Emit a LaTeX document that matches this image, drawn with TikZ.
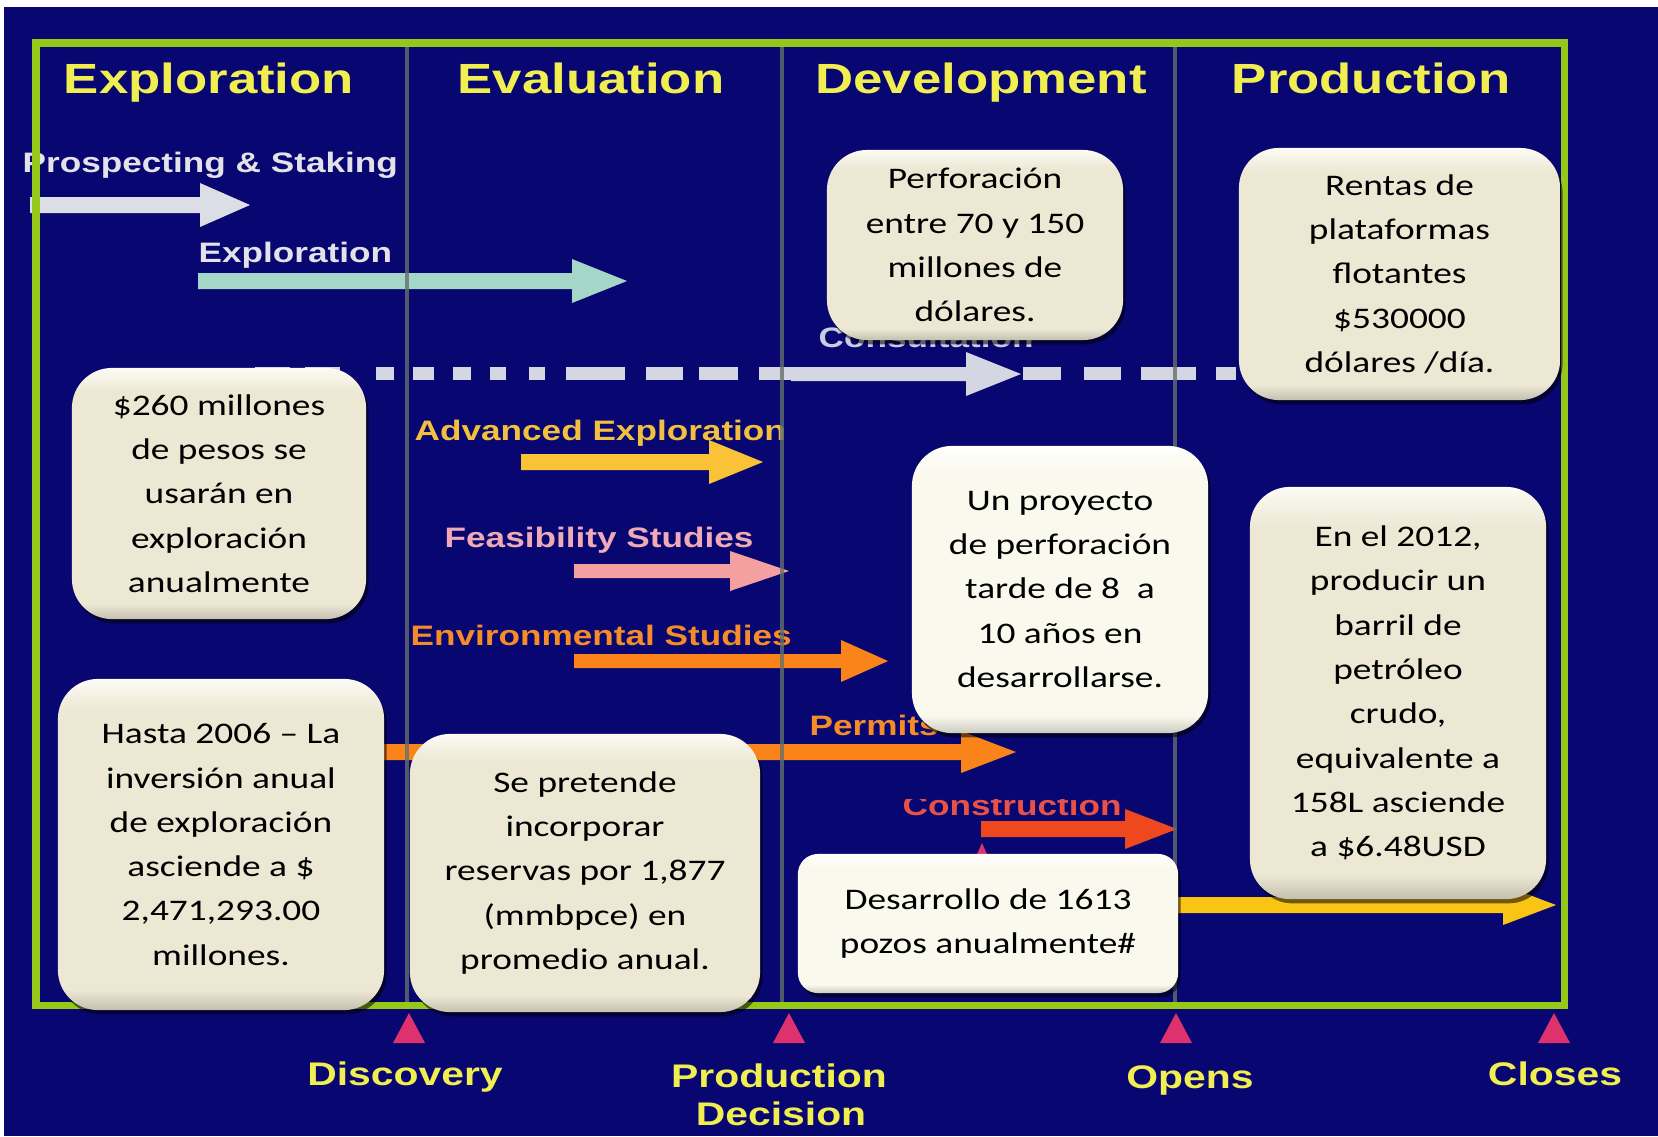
\documentclass[tikz,border=0pt]{standalone}
\usepackage{fontspec}
\setmainfont{Carlito}
\newfontfamily\boxfont[FakeStretch=1.25]{Carlito}
\newfontfamily\hdfont[FakeStretch=1.25]{Liberation Sans}
\usetikzlibrary{shadows}

% palette
\definecolor{navy}{RGB}{8,6,112}
\definecolor{framegreen}{RGB}{150,200,25}
\definecolor{divider}{RGB}{100,112,108}
\definecolor{hdyellow}{RGB}{240,238,80}
\definecolor{cream}{RGB}{236,232,212}
\definecolor{creamhigh}{RGB}{252,251,244}
\definecolor{creamlow}{RGB}{196,192,175}
\definecolor{ivory}{RGB}{250,249,238}
\definecolor{ivoryhigh}{RGB}{255,255,253}
\definecolor{ivorylow}{RGB}{205,203,192}
\definecolor{milestone}{RGB}{222,50,110}
\definecolor{argrey}{RGB}{220,222,230}
\definecolor{armint}{RGB}{165,215,200}
\definecolor{arconsult}{RGB}{212,214,226}
\definecolor{argold}{RGB}{250,195,55}
\definecolor{arpink}{RGB}{245,160,160}
\definecolor{arorange}{RGB}{250,132,25}
\definecolor{arred}{RGB}{240,72,30}
\definecolor{arprod}{RGB}{250,196,20}
\definecolor{lbgrey}{RGB}{226,226,232}
\definecolor{lbconsult}{RGB}{200,205,230}
\definecolor{lbgold}{RGB}{242,192,62}
\definecolor{lbpink}{RGB}{240,170,182}
\definecolor{lborange}{RGB}{245,140,40}
\definecolor{lbred}{RGB}{232,82,70}

% bevelled fills for the note boxes (light rim on top, darker rim at the bottom)
\pgfdeclareverticalshading{creambevel}{100bp}{color(0bp)=(creamlow); color(25bp)=(creamlow); color(28bp)=(cream); color(70bp)=(cream); color(75bp)=(creamhigh); color(100bp)=(creamhigh)}
\pgfdeclareverticalshading{ivorybevel}{100bp}{color(0bp)=(ivorylow); color(25bp)=(ivorylow); color(28bp)=(ivory); color(70bp)=(ivory); color(75bp)=(ivoryhigh); color(100bp)=(ivoryhigh)}

% block arrow: start x, head base x, tip x, y, half shaft, half head, colour
\newcommand\fatarrow[7]{%
  \fill[#7] (#1,{#4-#5}) -- (#2,{#4-#5}) -- (#2,{#4-#6}) -- (#3,#4)
    -- (#2,{#4+#6}) -- (#2,{#4+#5}) -- (#1,{#4+#5}) -- cycle;}

\tikzset{
  hdr/.style={font={\hdfont\bfseries\fontsize{12}{14}\selectfont}, text=hdyellow, anchor=base, inner sep=0pt},
  lbl/.style={font={\hdfont\bfseries\fontsize{8}{10}\selectfont}, anchor=base west, inner sep=0pt},
  mlbl/.style={font={\hdfont\bfseries\fontsize{9.3}{11}\selectfont}, text=hdyellow, anchor=base, inner sep=0pt},
  note/.style={rounded corners=0.4cm, shade, shading=creambevel,
    drop shadow={shadow xshift=0.7pt, shadow yshift=-1.2pt, opacity=0.55, fill=black},
    align=center, inner sep=0pt, text=black,
    font={\boxfont\fontsize{8.5}{12.6}\selectfont}},
  notewhite/.style={note, shading=ivorybevel},
  marker/.style={fill=milestone},
}

\begin{document}
\begin{tikzpicture}[x=0.01cm, y=-0.01cm]
\useasboundingbox (0,0) rectangle (1658,1136);
\fill[white] (0,0) rectangle (1658,1136);
\fill[navy] (4,7) rectangle (1658,1136);

% phase headers
\node[hdr] (hExpl) at (209,93) {Exploration};
\node[hdr] (hEval) at (591,93) {Evaluation};
\node[hdr] (hDev)  at (981,93) {Development};
\node[hdr] (hProd) at (1371,93) {Production};

% activity labels
\node[lbl, text=lbgrey]    (lProsp) at (22,172)  {Prospecting \& Staking};
\node[lbl, text=lbgrey]    (lExpl)  at (198,262) {Exploration};
\node[lbl, text=lbconsult] (lCons)  at (818,347) {Consultation};
\node[lbl, text=lbgold]    (lAdv)   at (414,440) {Advanced Exploration};
\node[lbl, text=lbpink]    (lFeas)  at (444,547) {Feasibility Studies};
\node[lbl, text=lborange]  (lEnv)   at (410,645) {Environmental Studies};
\node[lbl, text=lborange]  (lPerm)  at (809,735) {Permits};
\begin{scope}
  \clip (880,799) rectangle (1140,830);
  \node[lbl, text=lbred] (lConstr) at (902,815) {Construction};
\end{scope}

% activity arrows
\fatarrow{30}{200}{250}{205}{8}{22}{argrey}
\fatarrow{198}{572}{627}{281}{8}{22}{armint}
\foreach \a/\b in {255/290,305/340,376/394,413/434,453/471,490/506,529/545,566/625,
                   646/683,699/738,759/792,1023/1061,1084/1121,1141/1196,1216/1236}
  \fill[arconsult] (\a,367) rectangle (\b,380);
\fatarrow{791}{966}{1021}{374}{7}{22}{arconsult}
\fatarrow{521}{709}{763}{462}{8}{22}{argold}
\fatarrow{574}{730}{789}{571}{7}{20}{arpink}
\fatarrow{574}{841}{888}{661}{7}{21}{arorange}
\fatarrow{365}{961}{1016}{752}{8}{21}{arorange}
\fatarrow{981}{1125}{1177}{829}{8}{20}{arred}
\fatarrow{1170}{1503}{1556}{905}{8}{20}{arprod}

% phase dividers and frame
\foreach \x in {407,782,1175}
  \draw[divider, line width=0.9pt, opacity=0.8] (\x,43) -- (\x,1005);
\draw[framegreen, line width=2pt] (36,43) rectangle (1564,1005);

% milestones
\foreach \x in {409,789,1176,1554}
  \fill[marker] (\x,1013) -- ({\x+16},1043) -- ({\x-16},1043) -- cycle;
\fill[marker] (982,843) -- (994,870) -- (970,870) -- cycle;
\node[mlbl] (mDisc) at (405,1085) {Discovery};
\node[mlbl] (mProd) at (779,1087) {Production};
\node[mlbl] (mDec)  at (781,1125) {Decision};
\node[mlbl] (mOpen) at (1190,1088) {Opens};
\node[mlbl] (mClos) at (1555,1085) {Closes};

% notes
\node[note, minimum width=2.94cm, minimum height=2.51cm] (nA) at (219,493.5)
  {\$260 millones\\de pesos se\\usarán en\\exploración\\anualmente};
\node[note, minimum width=3.26cm, minimum height=3.31cm] (nB) at (221,844.5)
  {Hasta 2006 – La\\inversión anual\\de exploración\\asciende a \$\\2,471,293.00\\millones.};
\node[note, minimum width=3.50cm, minimum height=2.78cm] (nC) at (585,873)
  {Se pretende\\incorporar\\reservas por 1,877\\(mmbpce) en\\promedio anual.};
\node[note, minimum width=2.96cm, minimum height=1.90cm] (nD) at (975,245)
  {Perforación\\entre 70 y 150\\millones de\\dólares.};
\node[note, minimum width=3.21cm, minimum height=2.52cm] (nE) at (1399.5,274)
  {Rentas de\\plataformas\\flotantes\\\$530000\\dólares /día.};
\node[notewhite, minimum width=2.96cm, minimum height=2.87cm] (nF) at (1060,589.5)
  {Un proyecto\\de perforación\\tarde de 8\ \ a\\10 años en\\desarrollarse.};
\node[note, minimum width=2.96cm, minimum height=4.12cm] (nG) at (1398,693)
  {En el 2012,\\producir un\\barril de\\petróleo\\crudo,\\equivalente a\\158L asciende\\a \$6.48USD};
\node[notewhite, rounded corners=0.2cm, minimum width=3.80cm, minimum height=1.39cm] (nH) at (988,923.5)
  {Desarrollo de 1613\\pozos anualmente\#};
\end{tikzpicture}
\end{document}
